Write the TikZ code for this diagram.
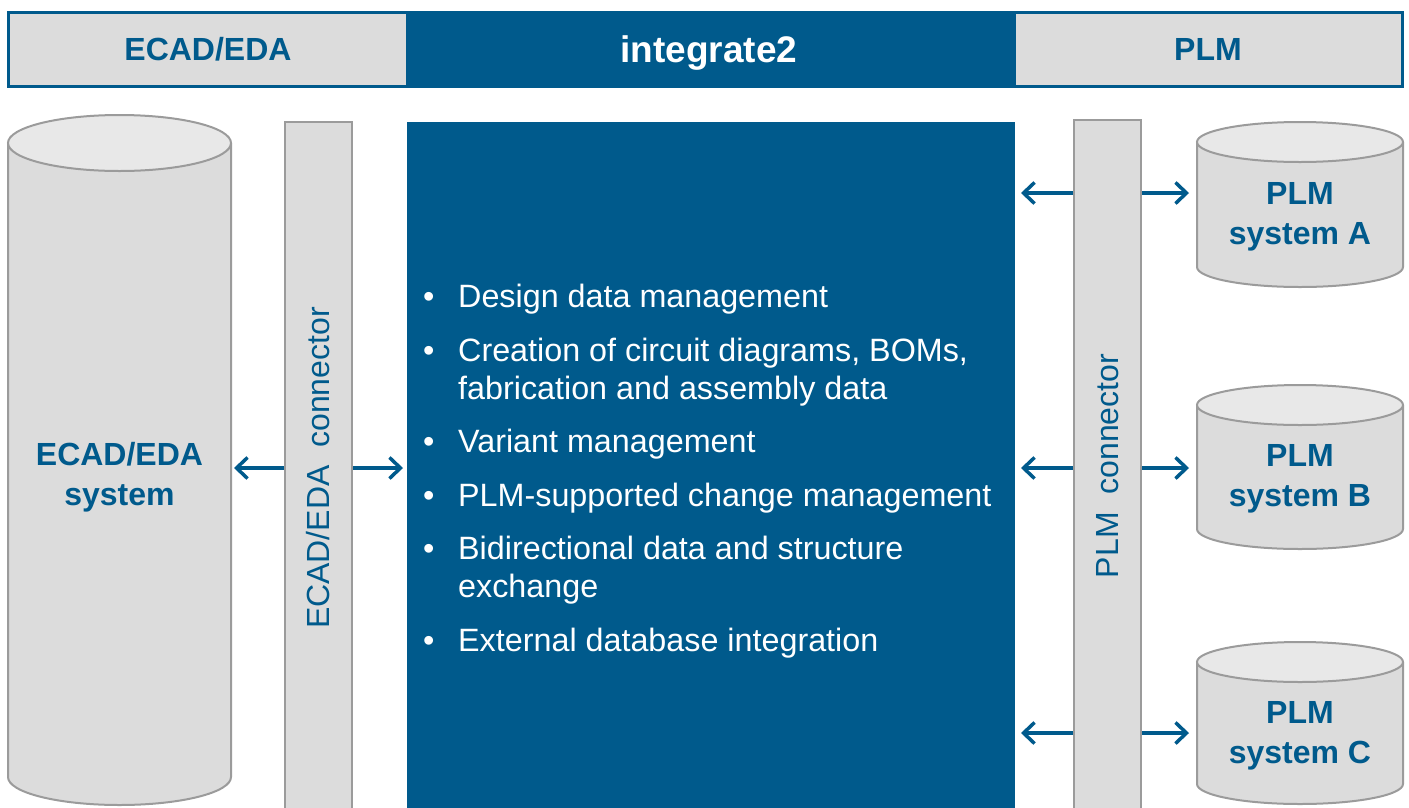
\documentclass[tikz,border=0pt]{standalone}
\usepackage{fontspec}
\setmainfont{Liberation Sans}
\usetikzlibrary{arrows.meta}
\definecolor{ibl}{RGB}{0,90,140}
\definecolor{gfill}{RGB}{220,220,220}
\definecolor{gtop}{RGB}{232,232,232}
\definecolor{gline}{RGB}{155,155,155}
\newcommand\drawcyl[5]{% cx, rx, topy, boty, ry
  \fill[gfill] (#1-#2,-#3) -- (#1-#2,-#4) arc[start angle=180,end angle=360,x radius=#2pt,y radius=#5pt] -- (#1+#2,-#3) -- cycle;
  \draw[gline,line width=2pt] (#1-#2,-#3) -- (#1-#2,-#4) arc[start angle=180,end angle=360,x radius=#2pt,y radius=#5pt] -- (#1+#2,-#3);
  \draw[gline,line width=2pt,fill=gtop] (#1,-#3) ellipse[x radius=#2pt,y radius=#5pt];
}
\tikzset{
  x=1pt,y=1pt,
  bar/.style={draw=gline,line width=2pt,fill=gfill,inner sep=0pt,minimum width=67pt,anchor=north},
  hdr/.style={font=\fontsize{32}{38}\selectfont\bfseries,text=ibl},
  cyltext/.style={font=\fontsize{32}{40}\selectfont\bfseries,text=ibl,align=center},
  vtext/.style={font=\fontsize{32}{38}\selectfont,text=ibl,rotate=90},
  item/.style={font=\fontsize{32.3}{38}\selectfont,text=white,anchor=base west,inner sep=0pt},
  arr/.style={draw=ibl,line width=3.5pt,-{Straight Barb[length=11pt,width=21pt,line width=3.5pt]}},
}
\begin{document}
\begin{tikzpicture}
\useasboundingbox (0,0) rectangle (1409,-807);
% header
\fill[ibl] (7,-11) rectangle (1404,-88);
\fill[gfill] (10,-14) rectangle (406,-85);
\fill[gfill] (1016,-14) rectangle (1401,-85);
\node[hdr] (h1) at (208,-49) {ECAD/EDA};
\node[hdr,text=white,font=\fontsize{37}{40}\selectfont\bfseries,anchor=base] (h2) at (709,-62) {integrate2};
\node[hdr] (h3) at (1208,-49) {PLM};
% left cylinder
\drawcyl{119.5}{111.5}{143}{777}{28}
\node[cyltext] (ecad) at (119.5,-477) {ECAD/EDA\\system};
% bars
\node[bar,minimum height=700pt] (ebar) at (318.5,-121) {};
\node[vtext] (elab) at (318.5,-468) {ECAD/EDA\ \ connector};
\node[bar,minimum height=700pt] (pbar) at (1107.5,-119) {};
\node[vtext] (plab) at (1107.5,-466) {PLM\ \ connector};
% middle box
\node[fill=ibl,inner sep=0pt,minimum width=608pt,minimum height=700pt,anchor=north west] (mid) at (407,-122) {};
% bullets
\foreach \y/\b/\t in {307/1/Design data management,
                       361/1/{Creation of circuit diagrams, BOMs,},
                       399/0/fabrication and assembly data,
                       452/1/Variant management,
                       506/1/PLM-supported change management,
                       559/1/Bidirectional data and structure,
                       597/0/exchange,
                       651/1/External database integration}{
  \ifnum\b=1 \node[item] at (423,-\y) {•};\fi
  \node[item] at (458,-\y) {\t};
}
% PLM cylinders
\drawcyl{1300}{103}{142}{267}{20}
\node[cyltext] (pa) at (1300,-217) {PLM\\system A};
\drawcyl{1300}{103}{405}{529}{20}
\node[cyltext] (pb) at (1300,-479) {PLM\\system B};
\drawcyl{1300}{103}{662}{784}{20}
\node[cyltext] (pc) at (1300,-736) {PLM\\system C};
% arrows
\coordinate (ecadE) at (234,-468);
\coordinate (midW) at (403,-468);
\draw[arr] (ebar.west |- ecadE) -- (ecadE);
\draw[arr] (ebar.east |- midW) -- (midW);
\foreach \y/\n in {193/a,468/b,733/c}{
  \coordinate (l\n) at (1021,-\y);
  \coordinate (r\n) at (1189,-\y);
  \draw[arr] (pbar.west |- l\n) -- (l\n);
  \draw[arr] (pbar.east |- r\n) -- (r\n);
}
\end{tikzpicture}
\end{document}
